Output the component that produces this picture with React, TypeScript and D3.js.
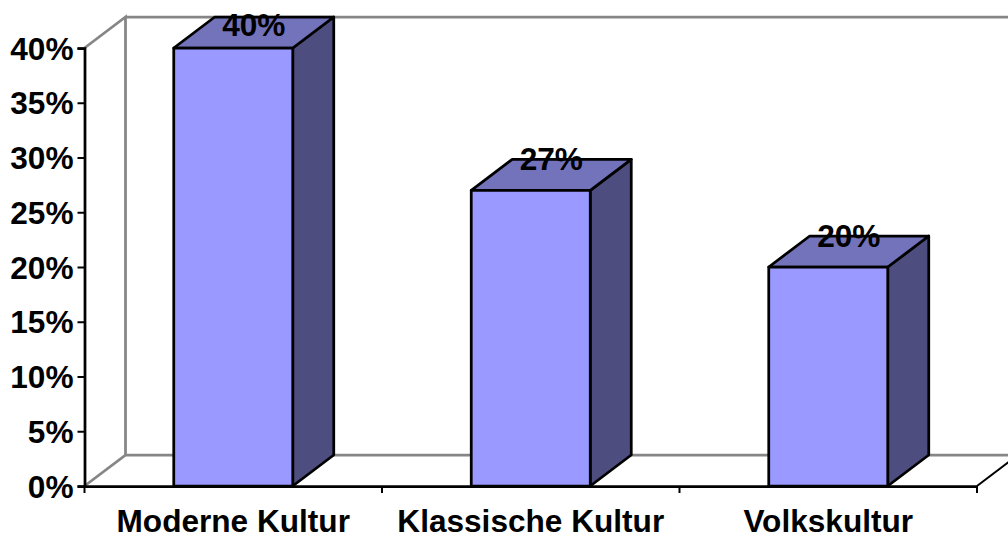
import * as d3 from 'd3';
import { useEffect, useRef } from 'react';

const categories = ['Moderne Kultur', 'Klassische Kultur', 'Volkskultur'];
const values = [40, 27, 20];
const tickValues = [0, 5, 10, 15, 20, 25, 30, 35, 40];

const width = 1008;
const height = 534;
const fontFamily = '"Liberation Sans", Arial, sans-serif';
const fontSize = '31.6px';
const depthX = 41;
const depthY = 31;

export default function App() {
  const ref = useRef<SVGSVGElement>(null);

  useEffect(() => {
    const svg = d3.select(ref.current);
    svg.selectAll('*').remove();

    const x = d3.scaleBand<string>().domain(categories).range([84.5, 977]);
    const y = d3.scaleLinear().domain([0, 40]).range([486, 48]);
    const barWidth = x.bandwidth() * 0.4;
    const x0 = 84.5;
    const y0 = y(0);
    const yTop = y(40);
    const gray = '#868686';

    // back walls, drawn first so the bars cover them
    svg.append('path')
      .attr('d', `M${x0},${yTop}L${x0 + depthX},${yTop - depthY}L${x0 + depthX},${y0 - depthY}L${x0},${y0}`)
      .attr('fill', 'none')
      .attr('stroke', gray)
      .attr('stroke-width', 2.75);
    svg.append('path')
      .attr('d', `M${x0 + depthX},${yTop - depthY}H${width + 10}`)
      .attr('stroke', gray)
      .attr('stroke-width', 2.75);
    svg.append('path')
      .attr('d', `M${x0 + depthX},${y0 - depthY}H${width + 10}`)
      .attr('stroke', gray)
      .attr('stroke-width', 2.75);
    svg.append('path')
      .attr('d', `M977,${y0}l${depthX},${-depthY}`)
      .attr('stroke', '#000')
      .attr('stroke-width', 2);

    // 3D bars
    const bars = svg.selectAll('g.bar')
      .data(values)
      .enter()
      .append('g')
      .attr('class', 'bar')
      .attr('stroke', '#000')
      .attr('stroke-width', 2.75)
      .attr('stroke-linejoin', 'round');

    const left = (i: number) => x(categories[i])! + (x.bandwidth() - barWidth) / 2;

    bars.append('path')
      .attr('fill', '#4d4d7f')
      .attr('d', (d, i) => {
        const r = left(i) + barWidth;
        return `M${r},${y(d)}l${depthX},${-depthY}V${y0 - depthY}L${r},${y0}Z`;
      });
    bars.append('path')
      .attr('fill', '#7373bb')
      .attr('d', (d, i) => `M${left(i)},${y(d)}l${depthX},${-depthY}h${barWidth}l${-depthX},${depthY}Z`);
    bars.append('rect')
      .attr('fill', '#9999ff')
      .attr('x', (d, i) => left(i))
      .attr('y', d => y(d))
      .attr('width', barWidth)
      .attr('height', d => y0 - y(d));

    // axes
    const yAxis = svg.append('g')
      .attr('transform', `translate(${x0},1)`)
      .call(d3.axisLeft(y).tickValues(tickValues).tickFormat(d => `${d}%`).tickSize(7).tickPadding(4));
    const xAxis = svg.append('g')
      .attr('transform', `translate(0,${y0})`)
      .call(d3.axisBottom(x).tickSize(0).tickPadding(24));

    yAxis.selectAll('line').attr('transform', 'translate(0,-1)');
    yAxis.select('.domain').attr('transform', 'translate(0,-1)');

    [yAxis, xAxis].forEach(axis => {
      axis.select('.domain').attr('stroke', '#000').attr('stroke-width', 2.75);
      axis.selectAll('text')
        .attr('fill', '#000')
        .style('font-family', fontFamily)
        .style('font-weight', 'bold')
        .style('font-size', fontSize);
    });
    yAxis.selectAll('line').attr('stroke', '#000').attr('stroke-width', 2);

    // category separators sit between the bands
    svg.append('g')
      .selectAll('line')
      .data([...categories.map(c => x(c)!), x.range()[1]])
      .enter()
      .append('line')
      .attr('x1', d => d)
      .attr('x2', d => d)
      .attr('y1', y0)
      .attr('y2', y0 + 7)
      .attr('stroke', '#000')
      .attr('stroke-width', 2);

    // value labels, the tallest one is pushed down to stay inside the plot
    svg.selectAll('text.value')
      .data(values)
      .enter()
      .append('text')
      .attr('class', 'value')
      .attr('x', (d, i) => left(i) + barWidth / 2 + depthX / 2)
      .attr('y', d => Math.max(y(d) - 20, 36))
      .attr('text-anchor', 'middle')
      .attr('fill', '#000')
      .style('font-family', fontFamily)
      .style('font-weight', 'bold')
      .style('font-size', fontSize)
      .text(d => `${d}%`);
  }, []);

  return (
    <svg
      ref={ref}
      width={width}
      height={height}
      style={{ position: 'absolute', left: 0, top: 0, background: '#fff' }}
    />
  );
}
